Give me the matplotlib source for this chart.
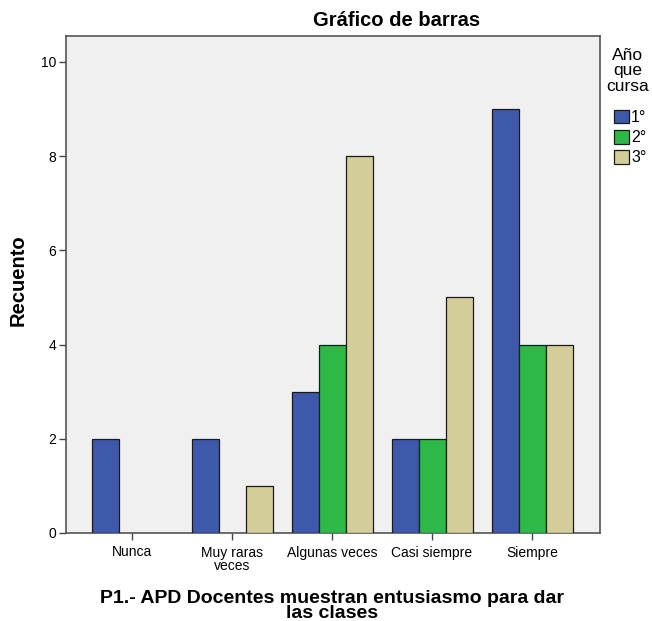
import numpy as np
import matplotlib.pyplot as plt
from matplotlib.patches import Patch

plt.rcParams["font.family"] = ["Liberation Sans", "DejaVu Sans"]

categories = ["Nunca", "Muy raras\nveces", "Algunas veces", "Casi siempre", "Siempre"]
series_names = ["1°", "2°", "3°"]
counts_1 = [2, 2, 3, 2, 9]
counts_2 = [0, 0, 4, 2, 4]
counts_3 = [0, 1, 8, 5, 4]
colors = ["#3E58AC", "#2EB848", "#D3CE97"]

fig = plt.figure(figsize=(6.52, 6.21), dpi=100)
ax = fig.add_axes([66 / 652, 1 - 533 / 621, (600 - 66) / 652, (533 - 36) / 621])
ax.set_facecolor("#F0F0F0")

x = np.arange(len(categories))
width = 0.27
for i, (vals, col) in enumerate(zip([counts_1, counts_2, counts_3], colors)):
    vals = np.array(vals, dtype=float)
    mask = vals > 0  # SPSS leaves empty counts undrawn
    ax.bar(x[mask] + (i - 1) * width, vals[mask], width=width, color=col,
           edgecolor="#1a1a1a", linewidth=0.9, zorder=3)

ax.set_xlim(-0.66, 4.68)
ax.set_ylim(0, 10.55)
ax.set_yticks([0, 2, 4, 6, 8, 10])
ax.set_xticks(x)
ax.set_xticklabels(categories, fontsize=10, linespacing=0.92)
ax.tick_params(axis="y", labelsize=10, length=5, width=1, color="#444444", pad=2)
ax.tick_params(axis="x", length=5, width=1, color="#444444", pad=4)
for s in ax.spines.values():
    s.set_color("#555555")
    s.set_linewidth(1.2)

fig.text(18 / 652, 1 - 280 / 621, "Recuento", rotation=90, ha="center", va="center",
         fontsize=14.5, fontweight="bold")
fig.text(397 / 652, 1 - 20 / 621, "Gráfico de barras", ha="center", va="center",
         fontsize=14.5, fontweight="bold")
fig.text(332 / 652, 1 - 606 / 621, "P1.- APD Docentes muestran entusiasmo para dar\nlas clases",
         ha="center", va="center", fontsize=14, fontweight="bold", linespacing=0.82)

# legend title drawn separately so the gap to the entries can match
fig.text(628 / 652, 1 - 71 / 621, "Año\nque\ncursa", ha="center", va="center",
         fontsize=12.5, multialignment="center", linespacing=1.08)
handles = [Patch(facecolor=c, edgecolor="#1a1a1a", linewidth=0.9) for c in colors]
leg = fig.legend(handles, series_names, loc="upper left",
                 bbox_to_anchor=(612 / 652, 1 - 108 / 621), frameon=False, fontsize=11.5,
                 handlelength=0.95, handleheight=0.95,
                 handletextpad=0.15, labelspacing=0.3, borderpad=0.1, borderaxespad=0)

fig.savefig("out.png", dpi=100)
